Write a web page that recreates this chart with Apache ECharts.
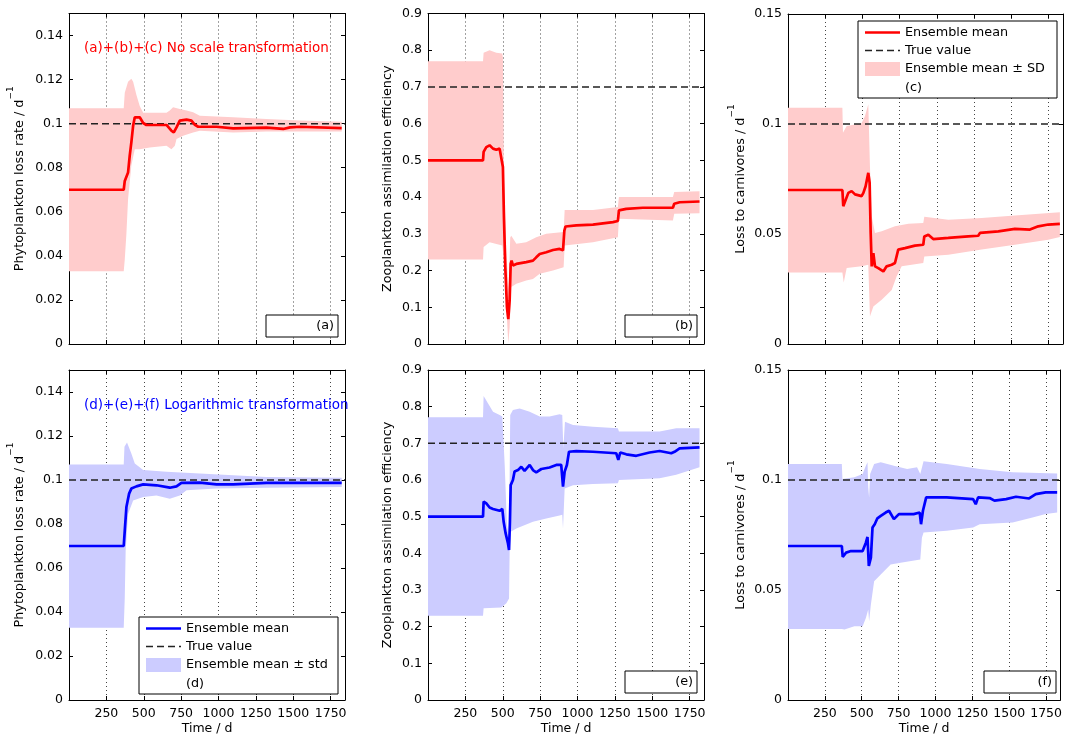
<!DOCTYPE html>
<html><head><meta charset="utf-8">
<script src="https://cdn.jsdelivr.net/npm/echarts@6/dist/echarts.min.js"></script>
<style>html,body{margin:0;padding:0;background:#fff}#c{width:1065px;height:738px}</style>
</head><body><div id="c"></div>
<script>
// ---------- tick labels ----------
const timeTicks = [250, 500, 750, 1000, 1250, 1500, 1750];
const TIME_MAX = 1846;

// ---------- (a) phytoplankton loss rate, no transformation ----------
const tMeanA = [0,366,373,395,406,417,429,440,473,496,518,585,652,685,701,719,741,786,819,842,864,987,1098,1321,1433,1478,1545,1824];
const meanA  = [0.07,0.07,0.074,0.0778,0.0854,0.0915,0.0991,0.1029,0.1029,0.1003,0.0994,0.0994,0.0994,0.0968,0.096,0.0983,0.1014,0.1018,0.1014,0.0995,0.0986,0.0986,0.0979,0.0982,0.0976,0.0983,0.0986,0.098];
const tHiA = [0,366,373,395,417,429,451,473,496,540,652,674,696,741,786,830,875,1098,1321,1545,1824];
const hiA  = [0.107,0.107,0.114,0.119,0.1204,0.119,0.113,0.108,0.105,0.1049,0.1049,0.106,0.1074,0.1067,0.106,0.1052,0.1036,0.1029,0.1021,0.1014,0.1009];
const tLoA = [0,366,373,384,395,417,440,473,540,652,685,708,719,763,830,875,1098,1321,1824];
const loA  = [0.033,0.033,0.0383,0.05,0.0657,0.081,0.0884,0.0884,0.0892,0.09,0.0884,0.09,0.093,0.0945,0.096,0.0968,0.096,0.0964,0.0965];

// ---------- (b) zooplankton assimilation efficiency ----------
const tMeanB = [0,368,372,390,412,435,457,479,490,501,508,517,528,537,546,553,559,568,591,657,702,724,747,791,836,880,903,912,920,992,1103,1237,1270,1277,1326,1437,1638,1647,1683,1816];
const meanB  = [0.5,0.5,0.523,0.536,0.541,0.532,0.529,0.532,0.536,0.482,0.345,0.209,0.1,0.068,0.118,0.218,0.227,0.214,0.218,0.223,0.227,0.236,0.245,0.25,0.256,0.259,0.255,0.309,0.32,0.323,0.325,0.332,0.335,0.364,0.368,0.371,0.371,0.382,0.386,0.388];
const tHiB = [0,368,372,412,457,497,501,508,524,539,550,557,591,657,724,791,907,914,1103,1270,1277,1638,1647,1816];
const hiB  = [0.77,0.77,0.793,0.8,0.793,0.791,0.78,0.45,0.25,0.15,0.29,0.295,0.273,0.277,0.291,0.3,0.305,0.365,0.365,0.373,0.4,0.4,0.414,0.416];
const tLoB = [0,368,372,412,497,508,524,537,546,557,591,657,702,747,836,907,914,1103,1270,1277,1638,1647,1816];
const loB  = [0.23,0.23,0.264,0.277,0.268,0.227,0.1,0.002,0.045,0.155,0.164,0.173,0.177,0.191,0.2,0.209,0.268,0.277,0.291,0.341,0.336,0.355,0.356];

// ---------- (c) loss to carnivores ----------
const tMeanC = [0,365,371,383,405,427,450,494,506,521,539,548,555,562,573,584,606,640,662,696,718,740,785,852,908,915,942,975,1076,1210,1277,1289,1412,1523,1624,1680,1747,1825];
const meanC  = [0.07,0.07,0.0626,0.0619,0.0687,0.0695,0.068,0.0672,0.0687,0.0717,0.0778,0.0733,0.0505,0.0353,0.0413,0.0353,0.0345,0.033,0.0353,0.036,0.0368,0.0429,0.0436,0.0447,0.0451,0.0489,0.0497,0.0477,0.0482,0.0489,0.0492,0.0505,0.0512,0.0523,0.052,0.0535,0.0543,0.0546];
const tHiC = [0,365,369,394,494,517,539,550,562,584,629,718,808,908,915,1076,1300,1523,1825];
const hiC  = [0.1074,0.1074,0.096,0.0991,0.1003,0.1036,0.109,0.0809,0.058,0.0505,0.0512,0.0535,0.0547,0.055,0.0578,0.0565,0.0573,0.0584,0.0599];
const tLoC = [0,365,374,394,494,539,550,573,629,696,729,763,908,915,1076,1300,1523,1747,1825];
const loC  = [0.0325,0.0325,0.028,0.0345,0.0353,0.036,0.0125,0.017,0.0201,0.0246,0.0307,0.0353,0.0368,0.0398,0.0406,0.0429,0.0451,0.0474,0.0486];

// ---------- (d) phytoplankton loss rate, log transformation ----------
const tMeanD = [0,366,373,384,402,417,451,496,585,674,719,752,875,987,1098,1321,1824];
const meanD  = [0.07,0.07,0.077,0.0877,0.0938,0.0961,0.0971,0.098,0.0976,0.0965,0.0971,0.0987,0.0988,0.098,0.098,0.0987,0.0987];
const tHiD = [0,366,371,388,417,440,496,652,875,1098,1321,1824];
const hiD  = [0.1071,0.1071,0.1151,0.117,0.1121,0.1075,0.1045,0.1037,0.1029,0.1022,0.1014,0.101];
const tLoD = [0,366,373,379,395,429,496,585,674,741,786,987,1321,1824];
const loD  = [0.0328,0.0328,0.0465,0.0679,0.0846,0.0907,0.0923,0.093,0.0915,0.093,0.0953,0.0961,0.0965,0.0968];

// ---------- (e) zooplankton assimilation efficiency, log ----------
const tMeanE = [0,368,372,390,412,435,479,497,506,519,535,542,548,553,568,579,602,624,646,680,702,724,758,813,858,891,903,914,929,943,992,1103,1259,1273,1286,1326,1393,1482,1549,1627,1649,1683,1816];
const meanE  = [0.5,0.5,0.541,0.536,0.525,0.521,0.516,0.521,0.486,0.455,0.427,0.409,0.486,0.586,0.6,0.623,0.627,0.636,0.625,0.641,0.627,0.621,0.63,0.634,0.641,0.641,0.582,0.623,0.641,0.677,0.679,0.677,0.673,0.655,0.675,0.67,0.666,0.675,0.679,0.673,0.677,0.686,0.689];
const tHiE = [0,368,372,401,435,479,497,513,528,542,550,568,613,680,747,813,880,898,905,916,970,1103,1270,1277,1549,1660,1816];
const hiE  = [0.771,0.771,0.829,0.809,0.786,0.777,0.773,0.641,0.477,0.441,0.777,0.791,0.795,0.786,0.773,0.773,0.779,0.777,0.686,0.759,0.75,0.745,0.741,0.732,0.732,0.741,0.741];
const tLoE = [0,368,372,490,524,542,546,553,591,702,791,880,898,903,914,970,1103,1270,1277,1549,1660,1816];
const loE  = [0.23,0.23,0.25,0.252,0.264,0.277,0.405,0.459,0.468,0.486,0.495,0.503,0.505,0.468,0.577,0.586,0.589,0.591,0.6,0.605,0.614,0.635];

// ---------- (f) loss to carnivores, log ----------
const tMeanF = [0,365,371,394,427,506,528,539,548,562,573,588,606,629,662,685,718,752,852,893,902,915,937,1076,1255,1273,1289,1300,1367,1400,1479,1546,1635,1680,1747,1825];
const meanF  = [0.07,0.07,0.065,0.067,0.0677,0.0677,0.0715,0.0741,0.0609,0.0647,0.0784,0.0799,0.0826,0.0837,0.0852,0.086,0.0822,0.0845,0.0845,0.0852,0.0799,0.086,0.0921,0.0921,0.0913,0.089,0.0921,0.0928,0.0918,0.0906,0.0913,0.0924,0.0916,0.0936,0.0944,0.0944];
const tHiF = [0,365,369,450,506,528,539,544,550,557,584,629,718,808,875,897,919,1076,1300,1523,1825];
const hiF  = [0.1073,0.1073,0.1005,0.1012,0.1027,0.1065,0.1081,0.0967,0.0921,0.1027,0.1073,0.1081,0.1065,0.105,0.1058,0.1027,0.1085,0.1073,0.105,0.1035,0.103];
const tLoF = [0,365,383,450,506,528,544,550,562,584,629,696,763,897,908,919,1076,1255,1300,1523,1658,1747,1825];
const loF  = [0.0323,0.0323,0.032,0.0335,0.0335,0.0373,0.0411,0.0358,0.0434,0.054,0.0571,0.0616,0.0624,0.0639,0.0738,0.0761,0.0769,0.0784,0.0799,0.0807,0.083,0.0845,0.0852];

// ---------- true parameter values ----------
const trueValues = [0.1, 0.7, 0.1, 0.1, 0.7, 0.1];

// ---------- layout / styling ----------
const FONT = 'DejaVu Sans';
const RED = '#ff0000', BLUE = '#0000ff', PINK = '#ffcccc', LILAC = '#ccccff';
const grids = [
  {left: 69,  top: 13.5, width: 276, height: 330.5},
  {left: 428, top: 13.5, width: 276, height: 330.5},
  {left: 788, top: 14,   width: 275, height: 330},
  {left: 69,  top: 370,  width: 276, height: 330},
  {left: 428, top: 370,  width: 276, height: 330},
  {left: 788, top: 370,  width: 275, height: 330}
];
const NAME_PHY = '{n|Phytoplankton loss rate / d}{s|−1}';
const NAME_ZOO = '{n|Zooplankton assimilation efficiency}';
const NAME_CAR = '{n|Loss to carnivores / d}{s|−1}';

const panels = [
  {tm: tMeanA, m: meanA, th: tHiA, h: hiA, tl: tLoA, l: loA, yMax: 0.15, yInt: 0.02, name: NAME_PHY, gap: 43, col: RED,  fill: PINK,  tag: '(a)', bottom: false},
  {tm: tMeanB, m: meanB, th: tHiB, h: hiB, tl: tLoB, l: loB, yMax: 0.9,  yInt: 0.1,  name: NAME_ZOO, gap: 34, col: RED,  fill: PINK,  tag: '(b)', bottom: false},
  {tm: tMeanC, m: meanC, th: tHiC, h: hiC, tl: tLoC, l: loC, yMax: 0.15, yInt: 0.05, name: NAME_CAR, gap: 41, col: RED,  fill: PINK,  tag: '(c)', bottom: false},
  {tm: tMeanD, m: meanD, th: tHiD, h: hiD, tl: tLoD, l: loD, yMax: 0.15, yInt: 0.02, name: NAME_PHY, gap: 43, col: BLUE, fill: LILAC, tag: '(d)', bottom: true},
  {tm: tMeanE, m: meanE, th: tHiE, h: hiE, tl: tLoE, l: loE, yMax: 0.9,  yInt: 0.1,  name: NAME_ZOO, gap: 34, col: BLUE, fill: LILAC, tag: '(e)', bottom: true},
  {tm: tMeanF, m: meanF, th: tHiF, h: hiF, tl: tLoF, l: loF, yMax: 0.15, yInt: 0.05, name: NAME_CAR, gap: 41, col: BLUE, fill: LILAC, tag: '(f)', bottom: true}
];

const zip = (a, b) => a.map((v, i) => [v, b[i]]);
const isMult = (v, step) => Math.abs(v / step - Math.round(v / step)) < 1e-6;
const txtBase = {fontFamily: FONT, color: '#000'};

const xAxes = [], yAxes = [], series = [], graphic = [];

panels.forEach((p, i) => {
  const g = grids[i];
  xAxes.push({
    gridIndex: i, type: 'value', min: 0, max: TIME_MAX, interval: 250, position: 'bottom',
    axisLine: {show: true, onZero: false, lineStyle: {color: '#000', width: 1}},
    axisTick: {show: true, inside: true, length: 4, lineStyle: {color: '#000'}},
    axisLabel: {show: p.bottom, fontSize: 12.5, ...txtBase, margin: 7,
      formatter: v => timeTicks.includes(v) ? String(v) : ''},
    splitLine: {show: true, lineStyle: {color: '#444', type: [1, 3], width: 1}},
    name: p.bottom ? 'Time / d' : '', nameLocation: 'middle', nameGap: 22,
    nameTextStyle: {fontSize: 12.5, ...txtBase}
  });
  xAxes.push({
    gridIndex: i, type: 'value', min: 0, max: TIME_MAX, interval: 250, position: 'top',
    axisLine: {show: true, onZero: false, lineStyle: {color: '#000', width: 1}},
    axisTick: {show: true, inside: true, length: 4, lineStyle: {color: '#000'}},
    axisLabel: {show: false}, splitLine: {show: false}
  });
  yAxes.push({
    gridIndex: i, type: 'value', min: 0, max: p.yMax, interval: p.yInt, position: 'left',
    axisLine: {show: true, onZero: false, lineStyle: {color: '#000', width: 1}},
    axisTick: {show: true, inside: true, length: 4, lineStyle: {color: '#000'}},
    axisLabel: {show: true, fontSize: 12.5, ...txtBase, margin: 6,
      formatter: v => isMult(v, p.yInt) ? String(+v.toFixed(2)) : ''},
    splitLine: {show: false},
    name: p.name, nameLocation: 'middle', nameGap: p.gap, nameRotate: 90,
    nameTextStyle: {rich: {
      n: {fontSize: 12.8, fontFamily: FONT, color: '#000', lineHeight: 20, verticalAlign: 'bottom'},
      s: {fontSize: 9, fontFamily: FONT, color: '#000', verticalAlign: 'top'}
    }}
  });
  yAxes.push({
    gridIndex: i, type: 'value', min: 0, max: p.yMax, interval: p.yInt, position: 'right',
    axisLine: {show: true, onZero: false, lineStyle: {color: '#000', width: 1}},
    axisTick: {show: true, inside: true, length: 4, lineStyle: {color: '#000'}},
    axisLabel: {show: false}, splitLine: {show: false}
  });

  const xi = 2 * i, yi = 2 * i;
  // ensemble mean ± SD band
  series.push({
    type: 'custom', xAxisIndex: xi, yAxisIndex: yi, silent: true, z: 1, data: [[0, 0]],
    renderItem: (params, api) => {
      const up = p.th.map((t, k) => api.coord([t, p.h[k]]));
      const dn = p.tl.map((t, k) => api.coord([t, p.l[k]])).reverse();
      return {type: 'polygon', shape: {points: up.concat(dn)}, style: {fill: p.fill}};
    }
  });
  // true value
  series.push({
    type: 'line', xAxisIndex: xi, yAxisIndex: yi, silent: true, z: 3, symbol: 'none',
    data: [[0, trueValues[i]], [TIME_MAX, trueValues[i]]],
    lineStyle: {color: '#222', width: 1.5, type: [7, 4]}
  });
  // ensemble mean
  series.push({
    type: 'line', xAxisIndex: xi, yAxisIndex: yi, silent: true, z: 4, symbol: 'none',
    data: zip(p.tm, p.m), lineStyle: {color: p.col, width: 2.7}
  });

  // tag boxes (empty legends) for a, b, e, f
  if (p.tag !== '(c)' && p.tag !== '(d)') {
    const right = g.left + g.width - 7, bot = g.top + g.height - 7;
    graphic.push({type: 'rect', z: 100, shape: {x: right - 72, y: bot - 22, width: 72, height: 22},
      style: {fill: '#fff', stroke: '#000', lineWidth: 1}});
    graphic.push({type: 'text', z: 101, style: {text: p.tag, x: right - 4, y: bot - 11,
      font: '12.8px "DejaVu Sans"', fill: '#000', align: 'right', verticalAlign: 'middle'}});
  }
});

// full legends in (c) and (d)
function legendBox(x, y, col, fill, third, tag) {
  const w = 199, h = 77, rows = [y + 11.5, y + 29.5, y + 48, y + 66.5];
  const lx1 = x + 7, lx2 = x + 42, tx = x + 47;
  const font = '12.8px "DejaVu Sans"';
  graphic.push({type: 'rect', z: 100, shape: {x, y, width: w, height: h}, style: {fill: '#fff', stroke: '#000', lineWidth: 1}});
  graphic.push({type: 'line', z: 101, shape: {x1: lx1, y1: rows[0], x2: lx2, y2: rows[0]}, style: {stroke: col, lineWidth: 2.7}});
  graphic.push({type: 'line', z: 101, shape: {x1: lx1, y1: rows[1], x2: lx2, y2: rows[1]}, style: {stroke: '#222', lineWidth: 1.5, lineDash: [7, 4]}});
  graphic.push({type: 'rect', z: 101, shape: {x: lx1, y: rows[2] - 7, width: lx2 - lx1, height: 14}, style: {fill, stroke: null}});
  [['Ensemble mean', 0], ['True value', 1], [third, 2], [tag, 3]].forEach(([t, r]) =>
    graphic.push({type: 'text', z: 101, style: {text: t, x: tx, y: rows[r], font, fill: '#000', align: 'left', verticalAlign: 'middle'}}));
}
legendBox(858, 21, RED, PINK, 'Ensemble mean ± SD', '(c)');
legendBox(139, 617, BLUE, LILAC, 'Ensemble mean ± std', '(d)');

// panel-group captions
graphic.push({type: 'text', z: 101, style: {text: '(a)+(b)+(c) No scale transformation', x: 84, y: 48,
  font: '13.5px "DejaVu Sans"', fill: RED, align: 'left', verticalAlign: 'middle'}});
graphic.push({type: 'text', z: 101, style: {text: '(d)+(e)+(f) Logarithmic transformation', x: 84, y: 405,
  font: '13.5px "DejaVu Sans"', fill: BLUE, align: 'left', verticalAlign: 'middle'}});

const chart = echarts.init(document.getElementById('c'), null, {renderer: 'canvas'});
chart.setOption({
  animation: false,
  backgroundColor: '#fff',
  grid: grids.map(g => ({...g, containLabel: false})),
  xAxis: xAxes, yAxis: yAxes, series, graphic
});
</script></body></html>
